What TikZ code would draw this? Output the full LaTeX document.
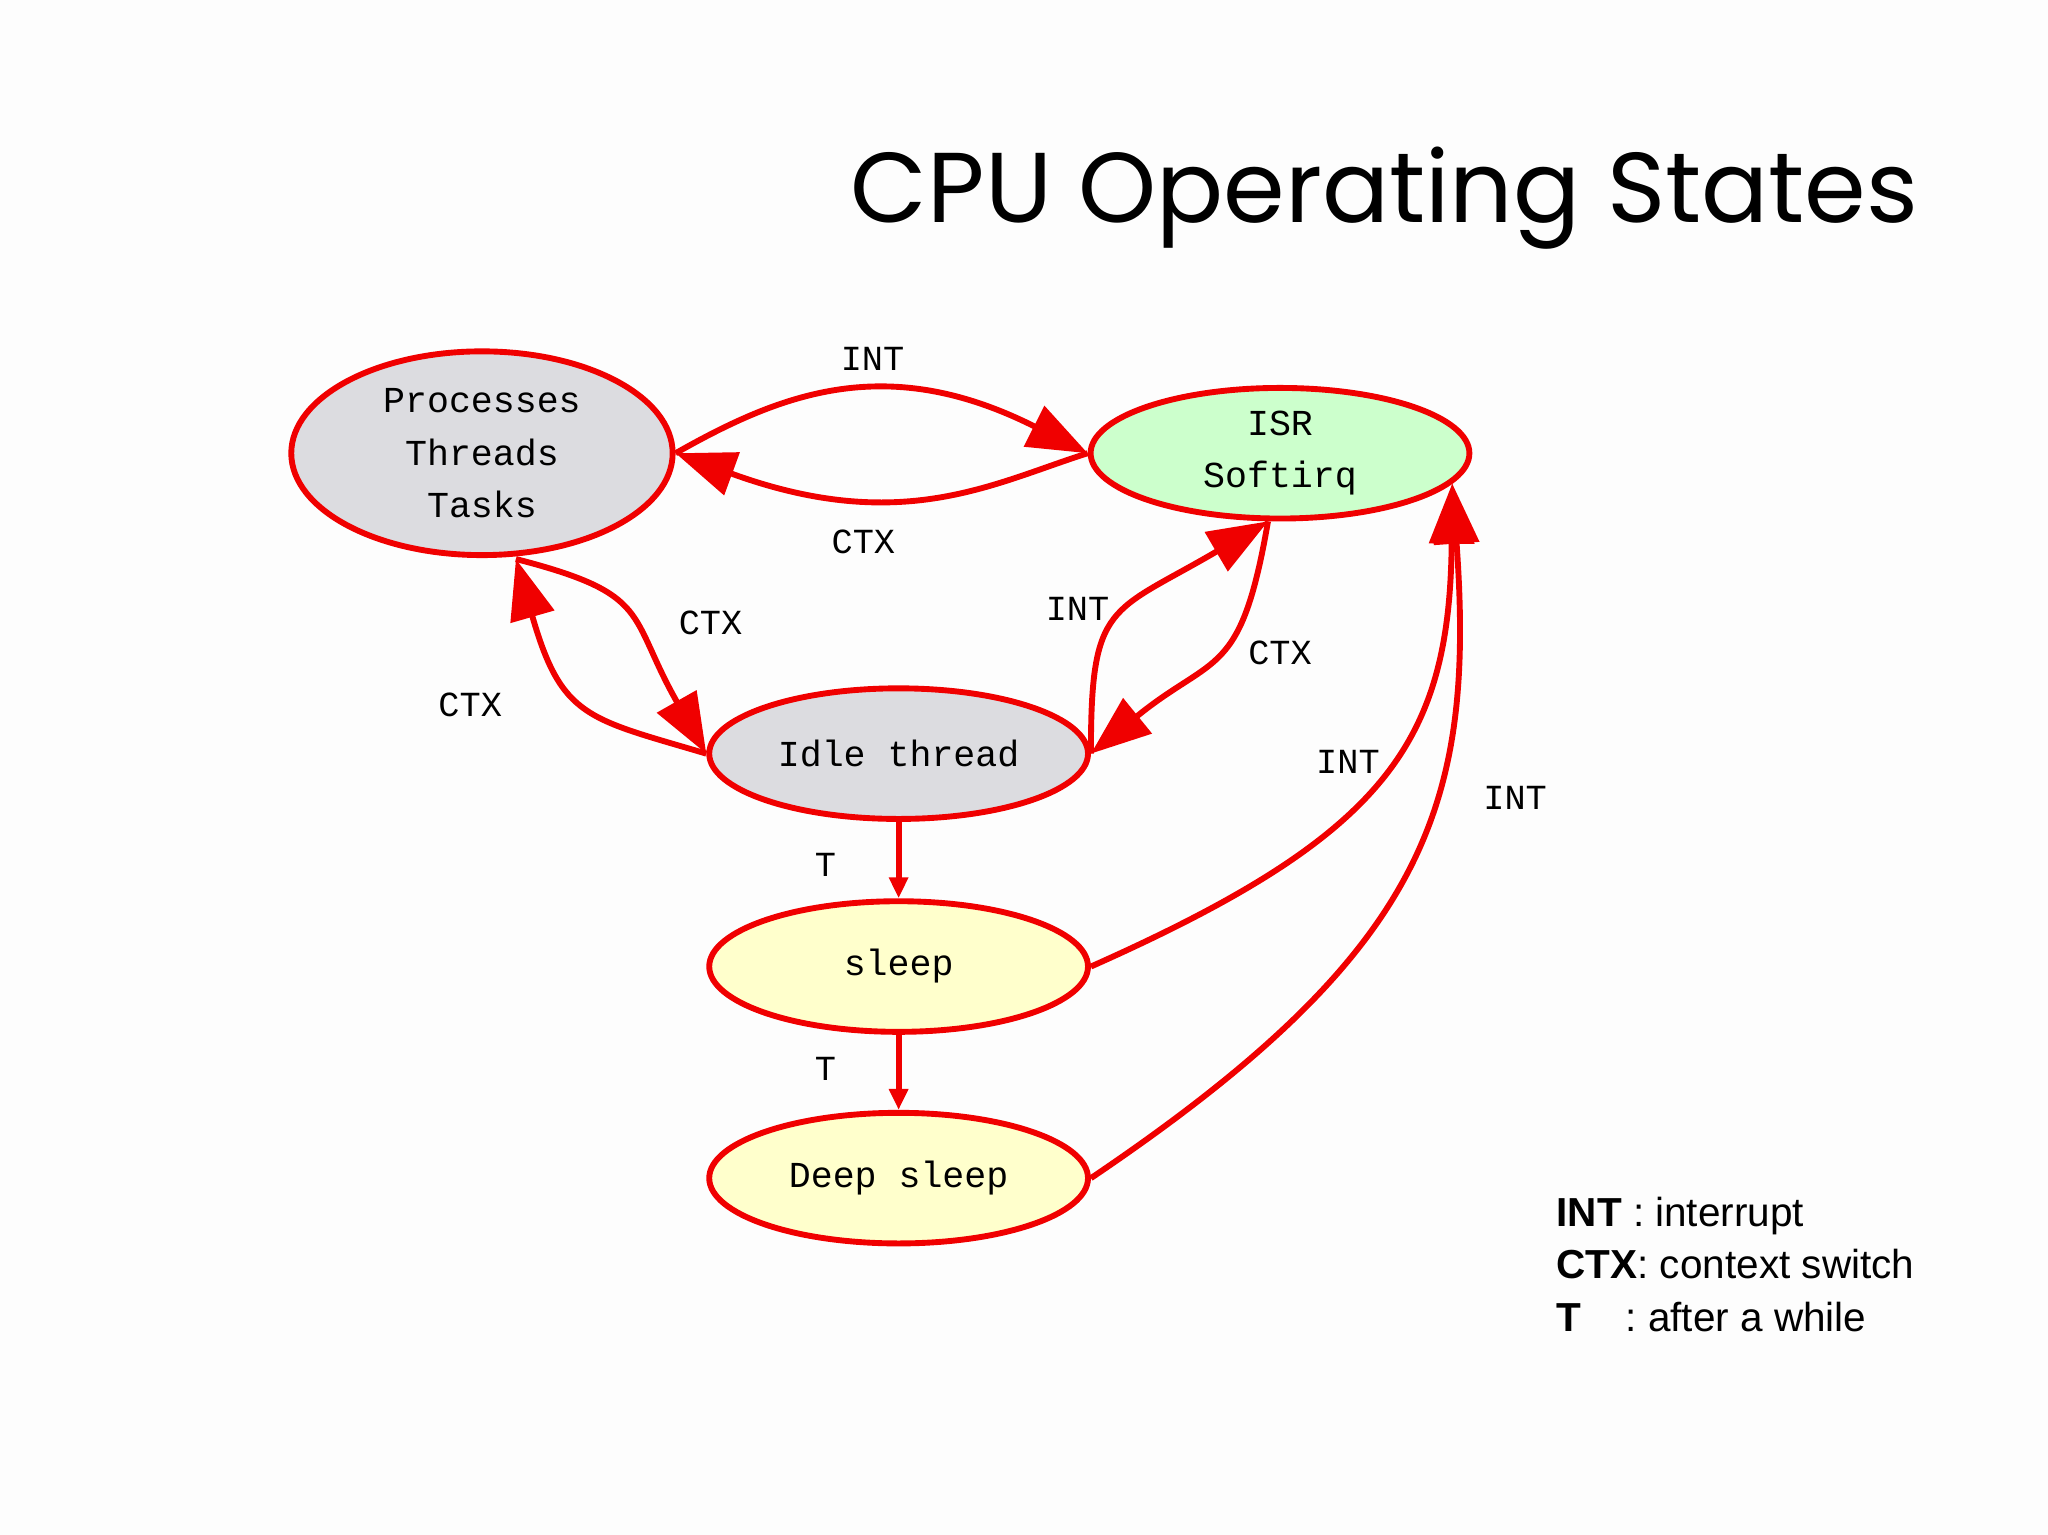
\documentclass[tikz,border=0pt]{standalone}
\usepackage{fontspec}
\setmainfont{Liberation Mono}
\newfontfamily\titlefont{Poppins}
\newfontfamily\legendfont{Liberation Sans}
\usetikzlibrary{arrows.meta,shapes.geometric}
\tikzset{every picture/.style={line width=0.75pt}}
\tikzset{
  state/.style={draw={rgb,255:red,240;green,0;blue,0},line width=4.5pt,ellipse,minimum width=290pt,minimum height=100pt,inner sep=0pt,align=center,font=\fontsize{28}{40}\selectfont},
  trans/.style={draw={rgb,255:red,240;green,0;blue,0},line width=4.5pt,-{Triangle[length=46pt,width=34pt]}},
  small/.style={draw={rgb,255:red,240;green,0;blue,0},line width=4.5pt,-{Triangle[length=16pt,width=14pt]}},
  lbl/.style={font=\fontsize{27}{30}\selectfont}
}
\definecolor{grayfill}{RGB}{220,220,224}
\definecolor{greenfill}{RGB}{204,255,204}
\definecolor{yellowfill}{RGB}{255,255,204}
\begin{document}
\begin{tikzpicture}[x=1pt,y=1pt,yscale=-1]
\useasboundingbox[fill={rgb,255:red,253;green,253;blue,253}] (0,0) rectangle (1568,1175);
% Title
\node[font=\titlefont\fontsize{76}{90}\selectfont] (title) at (1060,152) {CPU Operating States};
% States
\node[state,fill=grayfill,minimum height=156pt,minimum width=292pt] (proc) at (369,347) {Processes\\Threads\\Tasks};
\node[state,fill=greenfill] (isr) at (980,347) {ISR\\Softirq};
\node[state,fill=grayfill] (idle) at (688,577) {Idle thread};
\node[state,fill=yellowfill] (sleep) at (688,740) {sleep};
\node[state,fill=yellowfill] (deep) at (688,902) {Deep sleep};
% Transitions
\draw[trans] (proc.east) .. controls (600,300) and (680,270) .. (isr.west);
\draw[trans] (isr.west) .. controls (760,370) and (690,410) .. (proc.east);
\draw[trans] (idle.west) .. controls (450,550) and (430,550) .. (395,428);
\draw[trans] (395,428) .. controls (500,455) and (480,470) .. (idle.west);
\draw[trans] (idle.east) .. controls (835,460) and (850,470) .. (isr.-100);
\draw[trans] (isr.-100) .. controls (950,520) and (930,500) .. (idle.east);
\draw[small] (idle.south) -- (sleep.north);
\draw[small] (sleep.south) -- (deep.north);
\draw[trans] (sleep.east) .. controls (1060,640) and (1110,570) .. (isr.-10);
\draw[trans] (deep.east) .. controls (1090,730) and (1130,620) .. (isr.-10);
% Labels
\node[lbl] (l1) at (668,275) {INT};
\node[lbl] (l2) at (661,415) {CTX};
\node[lbl] (l3) at (360,540) {CTX};
\node[lbl] (l4) at (544,477) {CTX};
\node[lbl] (l5) at (825,466) {INT};
\node[lbl] (l6) at (980,500) {CTX};
\node[lbl] (l7) at (632,662) {T};
\node[lbl] (l8) at (632,818) {T};
\node[lbl] (l9) at (1032,583) {INT};
\node[lbl] (l10) at (1160,611) {INT};
% Legend
\node[anchor=north west,align=left,font=\legendfont\fontsize{31}{40}\selectfont] (legend) at (1188,913)
  {\textbf{INT} : interrupt\\\textbf{CTX}: context switch\\\textbf{T}\hspace{34pt}: after a while};
\end{tikzpicture}
\end{document}
